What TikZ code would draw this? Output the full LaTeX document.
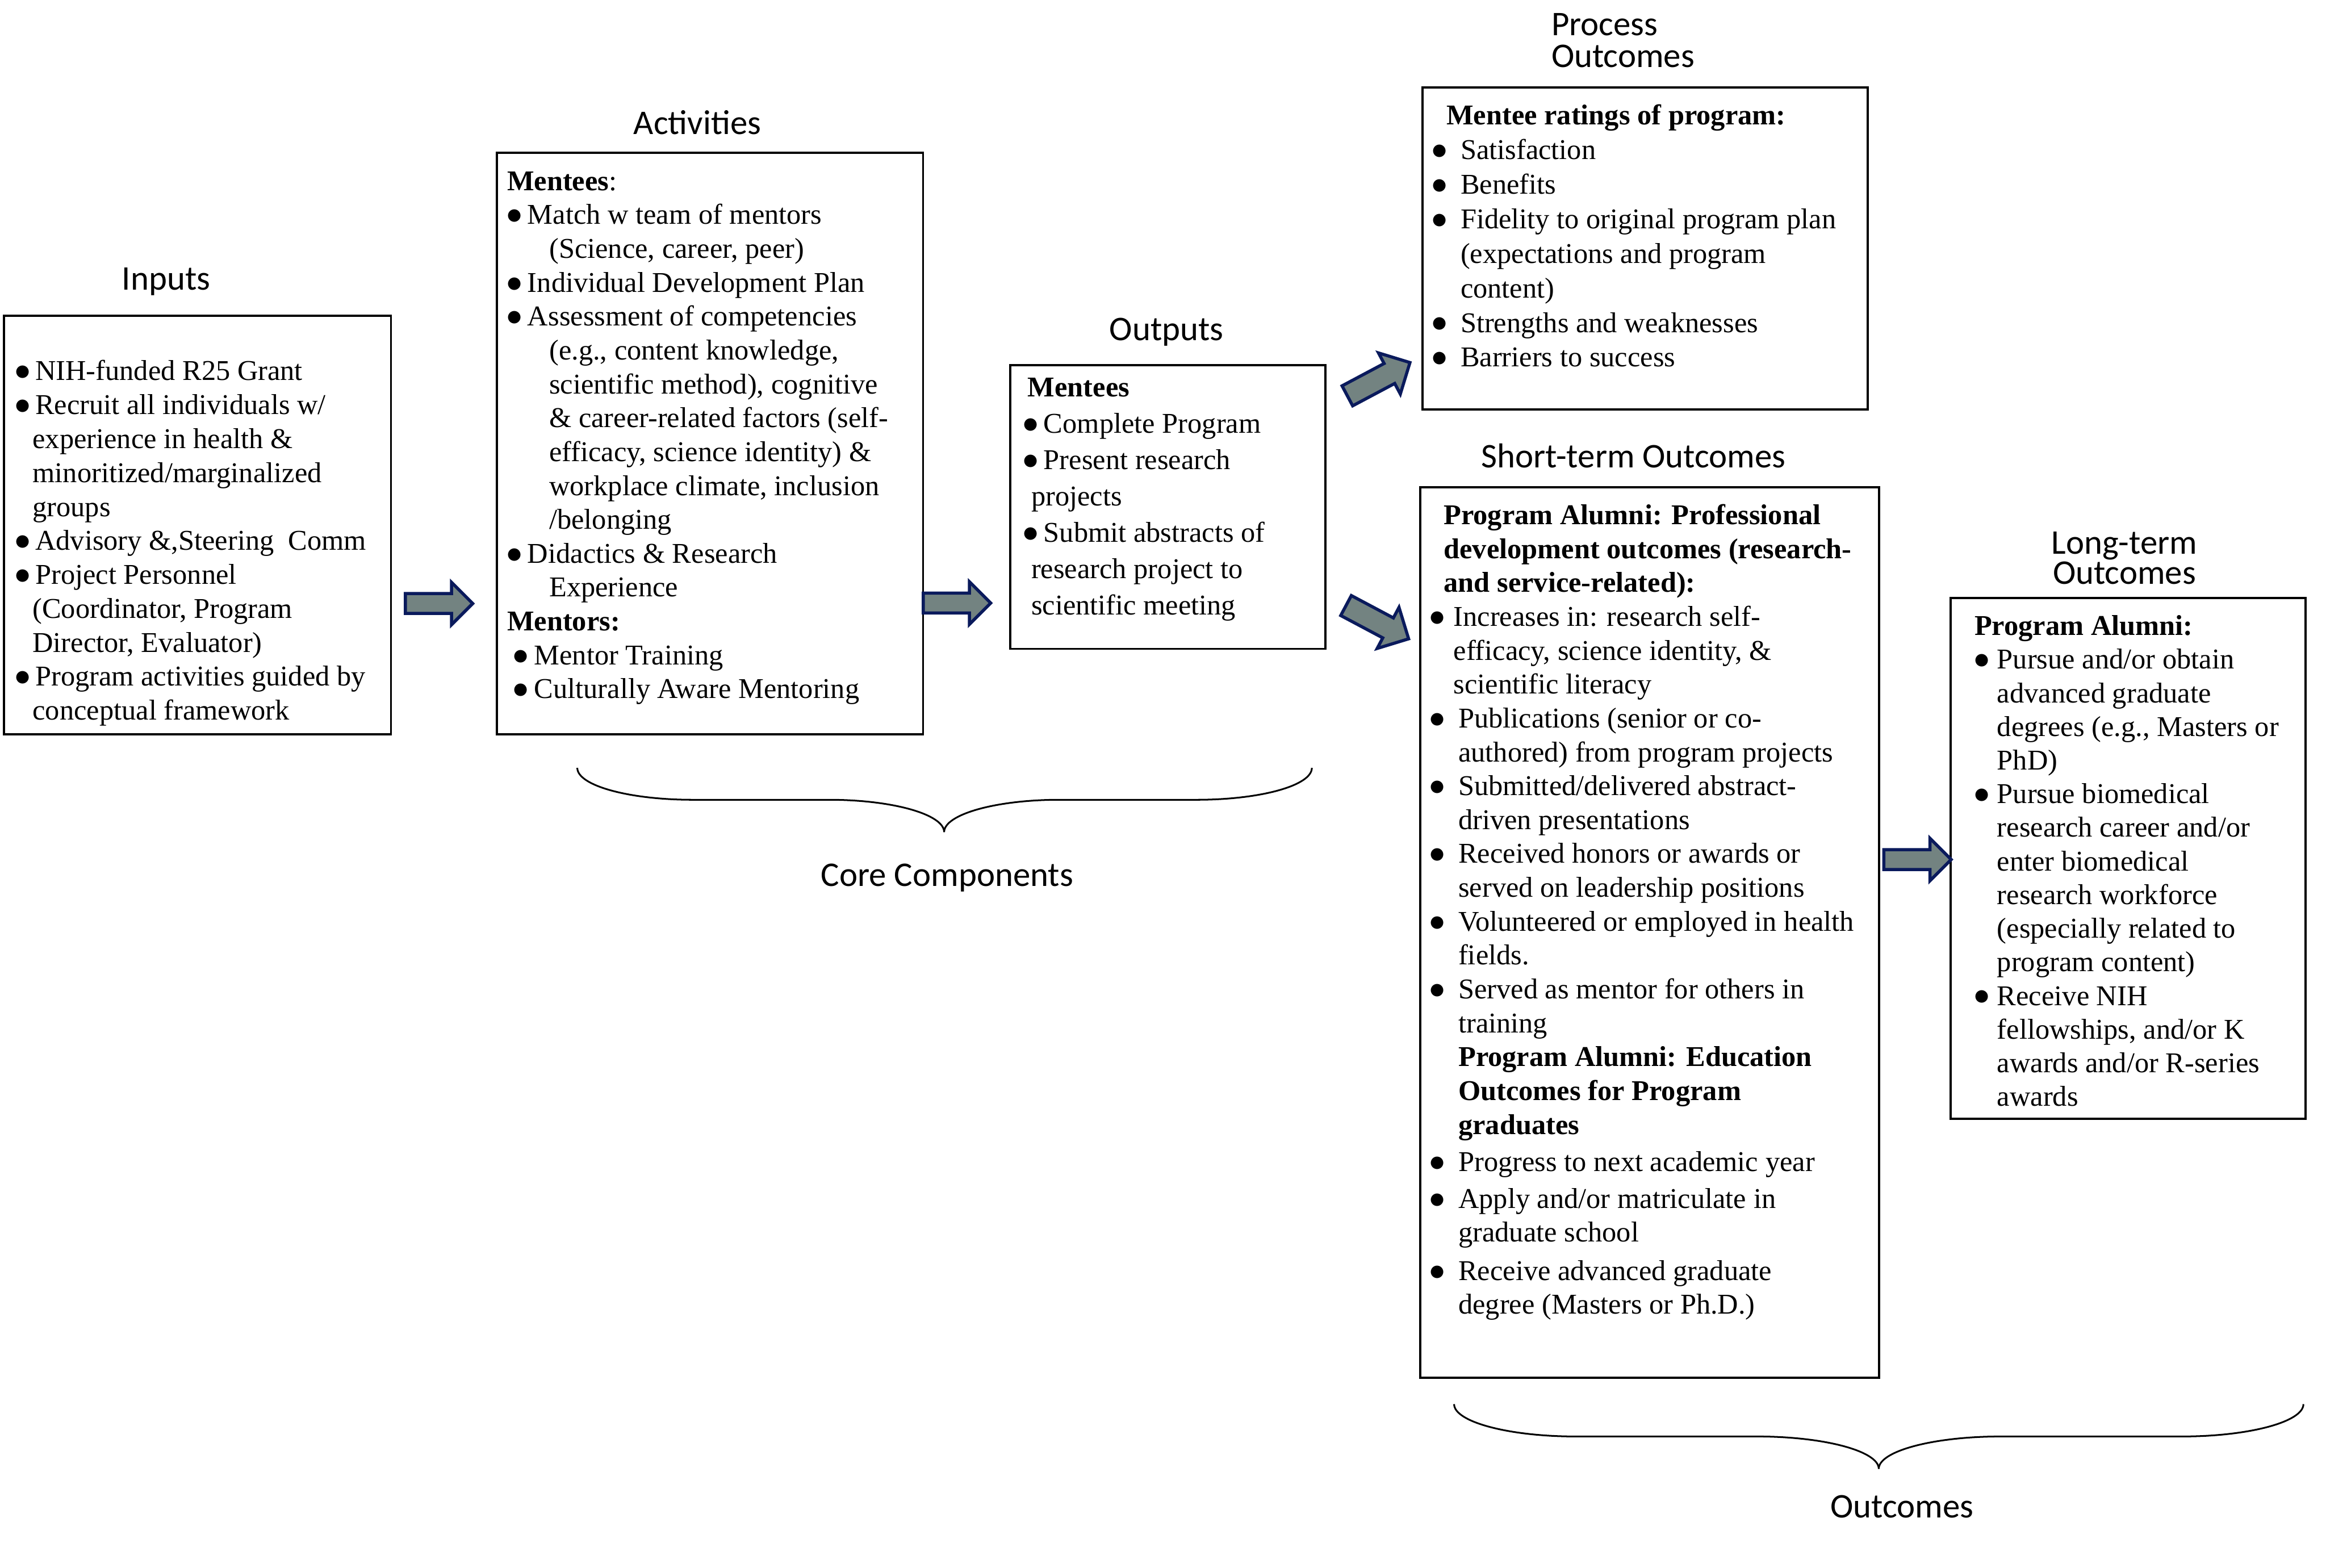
\documentclass[tikz,border=0pt]{standalone}
\usepackage{fontspec}
\setmainfont{Liberation Serif}
\newfontfamily\titlefont{Carlito}
\newfontfamily\dotfont{DejaVu Sans}
\usetikzlibrary{shapes.arrows}

\definecolor{arrowfill}{HTML}{738381}
\definecolor{arrowline}{HTML}{0A1A5C}

\newcommand{\bodyfont}{\fontsize{18.4pt}{21.75pt}\selectfont}
\newcommand{\firstrow}{\rule{0pt}{6mm}}
\newcommand{\dotmark}{{\dotfont\fontsize{10.5pt}{12pt}\selectfont\raisebox{2.6pt}{●}}}
\newcommand{\blt}{\makebox[\bw][l]{\dotmark}}
\newcommand{\ind}{\hspace*{\iw}}

\begin{document}
\begin{tikzpicture}

    % Styles
    \tikzstyle{boxframe} = [draw=black, line width=1.4pt, inner sep=0pt, anchor=north west]
    \tikzstyle{bodytext} = [anchor=north west, inner sep=0pt, align=left, font=\bodyfont]
    \tikzstyle{headtext} = [anchor=base, inner sep=0pt, font=\titlefont\fontsize{22.2pt}{26pt}\selectfont]
    \tikzstyle{blockarrow} = [single arrow, draw=arrowline, fill=arrowfill, line width=2pt,
        anchor=tail, minimum height=1.52cm, minimum width=0.89cm, inner sep=0.19cm,
        single arrow head extend=0.255cm, single arrow tip angle=90]
    \tikzstyle{slantarrow} = [blockarrow, minimum height=1.60cm, minimum width=0.98cm,
        inner sep=0.22cm, single arrow head extend=0.27cm]
    \tikzstyle{bracepath} = [draw=black, line width=1.1pt]

    % Page size (1 cm = 100 px of the figure)
    \useasboundingbox (0,0) rectangle (52.5,-35.38);

    % Boxes
    \node[boxframe, minimum width=8.74cm,  minimum height=9.45cm]  (inbox)  at (0.06,-7.10)  {};
    \node[boxframe, minimum width=9.62cm,  minimum height=13.13cm] (actbox) at (11.19,-3.42) {};
    \node[boxframe, minimum width=7.11cm,  minimum height=6.40cm]  (outbox) at (22.78,-8.22) {};
    \node[boxframe, minimum width=10.05cm, minimum height=7.27cm]  (procbox) at (32.08,-1.95) {};
    \node[boxframe, minimum width=10.36cm, minimum height=20.10cm] (shortbox) at (32.03,-10.97) {};
    \node[boxframe, minimum width=8.01cm,  minimum height=11.76cm] (longbox) at (44.00,-13.47) {};

    % Column titles
    \node[headtext] (intitle)    at (3.75,-6.54)   {Inputs};
    \node[headtext] (acttitle)   at (15.74,-3.03)  {Activities};
    \node[headtext] (outtitle)   at (26.33,-7.69)  {Outputs};
    \node[headtext] (shorttitle) at (36.87,-10.56) {Short-term Outcomes};
    \node[headtext, anchor=north west, align=left, font=\titlefont\fontsize{22.2pt}{20.5pt}\selectfont]
        (proctitle) at (35.01,-0.19) {\firstrow Process\\Outcomes};
    \node[headtext, anchor=north, align=center, font=\titlefont\fontsize{22.2pt}{19.3pt}\selectfont]
        (longtitle) at (47.95,-11.90) {\firstrow Long-term\\Outcomes};

    % Inputs
    \def\bw{0.44cm}\def\iw{0.38cm}
    \node[bodytext, font=\fontsize{18.4pt}{21.8pt}\selectfont] (intext) at (0.35,-7.98)
        {\firstrow\blt NIH-funded R25 Grant\\
        \blt Recruit all individuals w/\\
        \ind experience in health \&\\
        \ind minoritized/marginalized\\
        \ind groups\\
        \blt Advisory \&,Steering\ \ Comm\\
        \blt Project Personnel\\
        \ind(Coordinator, Program\\
        \ind Director, Evaluator)\\
        \blt Program activities guided by\\
        \ind conceptual framework};

    % Activities
    \def\bw{0.46cm}\def\iw{0.95cm}
    \node[bodytext] (acttext) at (11.44,-3.69) {\firstrow\textbf{Mentees}:\\
        \blt Match w team of mentors\\
        \ind(Science, career, peer)\\
        \blt Individual Development Plan\\
        \blt Assessment of competencies\\
        \ind(e.g., content knowledge,\\
        \ind scientific method), cognitive\\
        \ind\& career-related factors (self-\\
        \ind efficacy, science identity) \&\\
        \ind workplace climate, inclusion\\
        \ind/belonging\\
        \blt Didactics \& Research\\
        \ind Experience\\
        \textbf{Mentors:}\\
        \hspace*{0.15cm}\blt Mentor Training\\
        \hspace*{0.15cm}\blt Culturally Aware Mentoring};

    % Outputs
    \def\bw{0.46cm}\def\iw{0.18cm}
    \node[bodytext, font=\fontsize{18.4pt}{23.3pt}\selectfont] (outtext) at (23.09,-8.35)
        {\firstrow\hspace*{0.1cm}\textbf{Mentees}\\
        \blt Complete Program\\
        \blt Present research\\
        \ind projects\\
        \blt Submit abstracts of\\
        \ind research project to\\
        \ind scientific meeting};

    % Process outcomes
    \def\bw{0.63cm}\def\iw{0.63cm}
    \node[bodytext, font=\fontsize{18.4pt}{22.2pt}\selectfont] (proctext) at (32.33,-2.21)
        {\firstrow\hspace*{0.31cm}\textbf{Mentee ratings of program:}\\
        \blt Satisfaction\\
        \blt Benefits\\
        \blt Fidelity to original program plan\\
        \ind(expectations and program\\
        \ind content)\\
        \blt Strengths and weaknesses\\
        \blt Barriers to success};

    % Short-term outcomes
    \def\bw{0.64cm}\def\iw{0.64cm}
    \node[bodytext] (shorttext) at (32.27,-11.23)
        {\firstrow\hspace*{0.31cm}\textbf{Program Alumni: Professional}\\
        \hspace*{0.31cm}\textbf{development outcomes (research-}\\
        \hspace*{0.31cm}\textbf{and service-related):}\\
        \makebox[0.53cm][l]{\dotmark}Increases in: research self-\\
        \hspace*{0.53cm}efficacy, science identity, \&\\
        \hspace*{0.53cm}scientific literacy\\
        \blt Publications (senior or co-\\
        \ind authored) from program projects\\
        \blt Submitted/delivered abstract-\\
        \ind driven presentations\\
        \blt Received honors or awards or\\
        \ind served on leadership positions\\
        \blt Volunteered or employed in health\\
        \ind fields.\\
        \blt Served as mentor for others in\\
        \ind training\\
        \ind\textbf{Program Alumni: Education}\\
        \ind\textbf{Outcomes for Program}\\
        \ind\textbf{graduates}\\[0.07cm]
        \blt Progress to next academic year\\[0.07cm]
        \blt Apply and/or matriculate in\\
        \ind graduate school\\[0.1cm]
        \blt Receive advanced graduate\\
        \ind degree (Masters or Ph.D.)};

    % Long-term outcomes
    \def\bw{0.51cm}\def\iw{0.51cm}
    \node[bodytext, font=\fontsize{18.4pt}{21.6pt}\selectfont] (longtext) at (44.56,-13.73)
        {\firstrow\textbf{Program Alumni:}\\
        \blt Pursue and/or obtain\\
        \ind advanced graduate\\
        \ind degrees (e.g., Masters or\\
        \ind PhD)\\
        \blt Pursue biomedical\\
        \ind research career and/or\\
        \ind enter biomedical\\
        \ind research workforce\\
        \ind(especially related to\\
        \ind program content)\\
        \blt Receive NIH\\
        \ind fellowships, and/or K\\
        \ind awards and/or R-series\\
        \ind awards};

    % Block arrows between the columns
    \node[blockarrow] (inact)     at (9.115,-13.62)  {};
    \node[blockarrow] (actout)    at (20.805,-13.61) {};
    \node[slantarrow, rotate=28]  (outproc)  at (30.38,-8.95)  {};
    \node[slantarrow, rotate=-28] (outshort) at (30.35,-13.65) {};
    \node[blockarrow] (shortlong) at (42.485,-19.40) {};

    % Braces
    \path[bracepath] (13.03,-17.33) .. controls (13.03,-17.73) and (14.20,-18.05) .. (15.63,-18.05)
        -- (18.71,-18.05) .. controls (20.145,-18.05) and (21.31,-18.38) .. (21.31,-18.78)
        .. controls (21.31,-18.38) and (22.475,-18.05) .. (23.91,-18.05)
        -- (27.01,-18.05) .. controls (28.445,-18.05) and (29.61,-17.73) .. (29.61,-17.33);
    \path[bracepath] (32.82,-31.69) .. controls (32.82,-32.09) and (34.052,-32.42) .. (35.57,-32.42)
        -- (39.655,-32.42) .. controls (41.173,-32.42) and (42.405,-32.75) .. (42.405,-33.15)
        .. controls (42.405,-32.75) and (43.637,-32.42) .. (45.155,-32.42)
        -- (49.24,-32.42) .. controls (50.758,-32.42) and (51.99,-32.09) .. (51.99,-31.69);

    % Brace labels
    \node[headtext] (corelabel)    at (21.38,-20.00) {Core Components};
    \node[headtext] (outcomelabel) at (42.93,-34.25) {Outcomes};

\end{tikzpicture}
\end{document}
